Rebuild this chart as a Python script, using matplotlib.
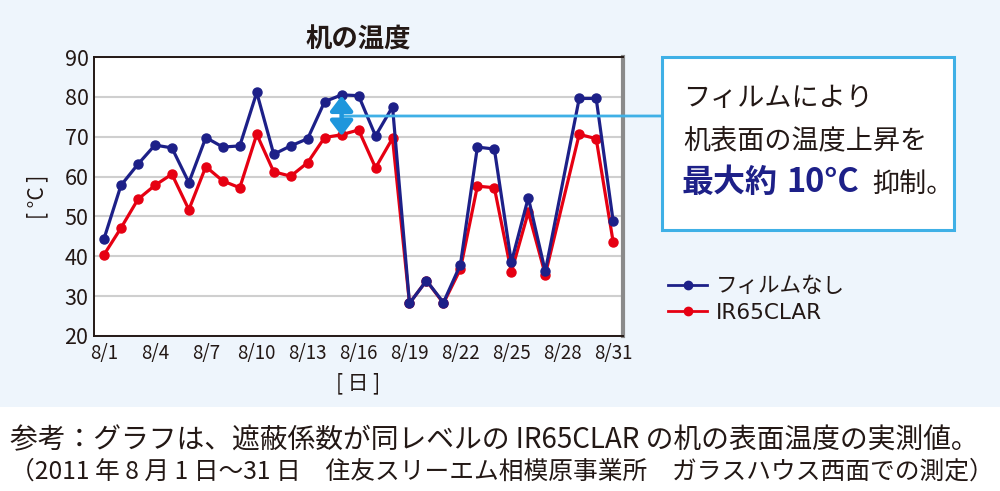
import matplotlib
matplotlib.use('Agg')
import matplotlib.pyplot as plt
from matplotlib.lines import Line2D
from matplotlib.patches import Rectangle

plt.rcParams['font.family'] = ['Noto Sans CJK JP', 'DejaVu Sans']

# ---- data (8/28 has no marker in the source: the line joins 8/27 to 8/29) ----
days = [1, 2, 3, 4, 5, 6, 7, 8, 9, 10, 11, 12, 13, 14, 15, 16, 17, 18, 19, 20,
        21, 22, 23, 24, 25, 26, 27, 29, 30, 31]
film_none = [44.4, 57.8, 63.1, 67.9, 67.2, 58.5, 69.8, 67.4, 67.7, 81.1,
             65.6, 67.7, 69.5, 78.8, 80.5, 80.3, 70.2, 77.5, 28.2, 33.9,
             28.4, 37.9, 67.4, 66.9, 38.5, 54.7, 36.2, 79.6, 79.6, 48.8]
ir65clar = [40.4, 47.1, 54.3, 57.8, 60.6, 51.7, 62.5, 58.9, 57.2, 70.6,
            61.2, 60.1, 63.5, 69.8, 70.5, 71.7, 62.2, 69.6, 28.2, 33.9,
            28.2, 36.8, 57.6, 57.2, 36.0, 51.1, 35.4, 70.6, 69.5, 43.6]
series_names = ['フィルムなし', 'IR65CLAR']
xtick_days = [1, 4, 7, 10, 13, 16, 19, 22, 25, 28, 31]
xtick_labels = ['8/1', '8/4', '8/7', '8/10', '8/13', '8/16', '8/19', '8/22',
                '8/25', '8/28', '8/31']
yticks = [20, 30, 40, 50, 60, 70, 80, 90]
arrow_day = 15
arrow_top, arrow_bottom = 80.3, 70.2
leader_value = 75.2

title = '机の温度'
ylabel = '[ °C ]'
xlabel = '[ 日 ]'
caption1 = '参考：グラフは、遮蔽係数が同レベルの IR65CLAR の机の表面温度の実測値。'
caption2 = '（2011 年 8 月 1 日～31 日　住友スリーエム相模原事業所　ガラスハウス西面での測定）'

BLUE = '#1D2088'
RED = '#E60012'
DARK = '#231815'
LIGHTBLUE = '#3FB0E6'
BG = '#EEF5FC'

W, H = 1000, 491
fig = plt.figure(figsize=(W / 100, H / 100), dpi=100, facecolor='white')
fig.patches.append(Rectangle((0, 1 - 407 / H), 1, 407 / H, transform=fig.transFigure,
                             facecolor=BG, edgecolor='none', zorder=-10))

ax = fig.add_axes([94 / W, 1 - 336 / H, (623 - 94) / W, (336 - 57) / H])
ax.set_zorder(1)
ax.set_facecolor('white')
ax.set_xlim(0.41, 31.58)
ax.set_ylim(20, 90)
ax.set_yticks(yticks)
ax.set_xticks(xtick_days)
ax.set_xticklabels(xtick_labels)
ax.yaxis.grid(True, color='#CFCFCF', lw=1.5)
ax.set_axisbelow(True)
ax.tick_params(length=0)
ax.tick_params(axis='y', labelsize=15.5, pad=4, labelcolor=DARK)
ax.tick_params(axis='x', labelsize=13.5, pad=5, labelcolor=DARK)
for s in ['top', 'left', 'bottom']:
    ax.spines[s].set_color(DARK)
    ax.spines[s].set_linewidth(1.4)
ax.spines['right'].set_color('#8A8A8A')
ax.spines['right'].set_linewidth(3)

ax.plot(days, film_none, color=BLUE, lw=2.3, marker='o', ms=6.5, zorder=4)
ax.plot(days, ir65clar, color=RED, lw=2.3, marker='o', ms=6.5, zorder=3)

ax.set_title(title, fontsize=19, fontweight='bold', color=DARK, pad=7)
ax.set_ylabel(ylabel, fontsize=15, color=DARK, labelpad=12)
ax.set_xlabel(xlabel, fontsize=15, color=DARK, labelpad=6)

# leader line from arrow to callout box
ax.annotate('', xy=(662 / W, leader_value), xycoords=('figure fraction', 'data'),
            xytext=(arrow_day, leader_value), textcoords='data',
            arrowprops=dict(arrowstyle='-', color=LIGHTBLUE, lw=2,
                            shrinkA=0, shrinkB=0), annotation_clip=False, zorder=5)
ax.annotate('', xy=(arrow_day, arrow_bottom), xytext=(arrow_day, arrow_top),
            arrowprops=dict(arrowstyle='<|-|>,head_length=0.5,head_width=0.38',
                            color='#1E96DC', lw=3.2,
                            mutation_scale=18, shrinkA=0, shrinkB=0), zorder=6)

# callout box
fig.patches.append(Rectangle((662 / W, 1 - 230 / H), (954 - 662) / W, (230 - 57) / H,
                             transform=fig.transFigure, facecolor='white',
                             edgecolor=LIGHTBLUE, lw=2.2, zorder=2))
fig.text(683 / W, 1 - 98 / H, 'フィルムにより', fontsize=19.5, color=DARK, va='center', zorder=3)
fig.text(683 / W, 1 - 141 / H, '机表面の温度上昇を', fontsize=19.5, color=DARK, va='center', zorder=3)
fig.text(682 / W, 1 - 183 / H, '最大約', fontsize=23, color=BLUE,
         fontweight='bold', va='center', zorder=3)
fig.text(786 / W, 1 - 183 / H, '10°C', fontsize=23.5, color=BLUE,
         fontweight='bold', va='center', zorder=3)
fig.text(872 / W, 1 - 184 / H, '抑制。', fontsize=19.5, color=DARK, va='center', zorder=3)

# legend
handles = [Line2D([], [], color=BLUE, lw=2, marker='o', ms=6),
           Line2D([], [], color=RED, lw=2, marker='o', ms=6)]
fig.legend(handles, series_names, loc='upper left', bbox_to_anchor=(649 / W, 1 - 257 / H),
           frameon=False, handlelength=1.8, handletextpad=0.4,
           labelspacing=0.3, labelcolor=DARK,
           prop={'family': ['DejaVu Sans', 'Noto Sans CJK JP'], 'size': 15.5})

# captions
fig.text(10 / W, 1 - 440 / H, caption1, fontsize=20, color=DARK, va='center')
fig.text(10 / W, 1 - 472 / H, caption2, fontsize=17.8, color=DARK, va='center')

fig.savefig('out.png', dpi=100, facecolor='white')
